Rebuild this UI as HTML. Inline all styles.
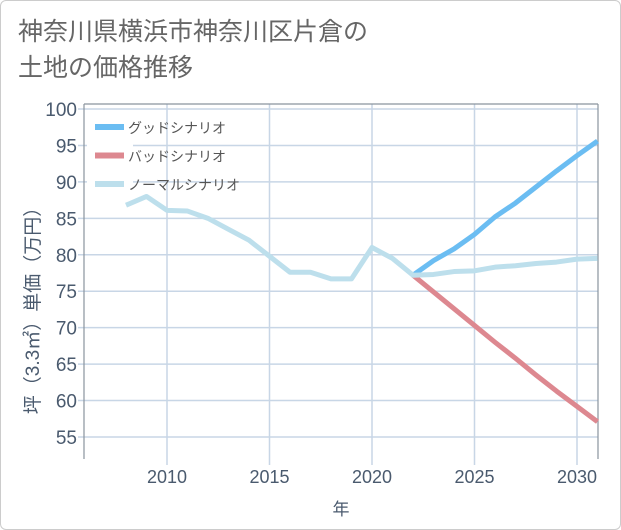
<!DOCTYPE html>
<html><head><meta charset="utf-8"><style>
body{margin:0;background:#fff;font-family:"Liberation Sans","Noto Sans CJK JP",sans-serif}
#wrap{position:relative;width:619px;height:528px;border:1px solid #ccc;border-radius:6px;overflow:hidden;background:#fff}
#title{position:absolute;left:17px;top:13px;font-size:25px;line-height:36px;color:#666;white-space:nowrap}
</style></head><body>
<div id="wrap">
<div id="title">神奈川県横浜市神奈川区片倉の<br>土地の価格推移</div>
<svg id="chart" width="621" height="530" style="position:absolute;left:0;top:0"></svg>
</div>
<script>
const normYears=[2008,2009,2010,2011,2012,2013,2014,2015,2016,2017,2018,2019,2020,2021,2022,2023,2024,2025,2026,2027,2028,2029,2030,2031];
const normVals=[86.8,88,86.1,86,85,83.5,82,79.8,77.6,77.6,76.7,76.7,81,79.5,77.2,77.3,77.7,77.8,78.3,78.5,78.8,79.0,79.4,79.5];
const goodYears=[2022,2023,2024,2025,2026,2027,2028,2029,2030,2031];
const goodVals=[77.2,79.2,80.8,82.8,85.2,87.1,89.3,91.5,93.6,95.6];
const badYears=[2022,2023,2024,2025,2026,2027,2028,2029,2030,2031];
const badVals=[77.2,74.9,72.6,70.3,68.0,65.8,63.5,61.3,59.2,57.1];
const yTicks=[55,60,65,70,75,80,85,90,95,100];
const xTicks=[2010,2015,2020,2025,2030];
const NS="http://www.w3.org/2000/svg";
const L=83,R=597,T=103,B=458;
const x=v=>166+(v-2010)*20.5;
const y=v=>108+(100-v)*7.289;
const svg=document.getElementById('chart');
function mk(t,a){const e=document.createElementNS(NS,t);for(const k in a)e.setAttribute(k,a[k]);svg.appendChild(e);return e;}
yTicks.forEach(v=>{
 const g=mk('line',{x1:L-6,x2:R,y1:y(v),y2:y(v),stroke:'#c8d6e6','stroke-width':1.5});
 
 
 const t=mk('text',{x:L-7,y:y(v)+7,'text-anchor':'end','font-size':19,fill:'#4a5a6e'});
 t.textContent=v;
 
 
});
xTicks.forEach(v=>{
 const g=mk('line',{x1:x(v),x2:x(v),y1:T,y2:B+6,stroke:'#c8d6e6','stroke-width':1.5});
 
 
 const t=mk('text',{x:x(v),y:B+24,'text-anchor':'middle','font-size':18,fill:'#4a5a6e'});
 t.textContent=v;
 
 
});
const ax=mk('path',{d:`M${L},${T}V${B}M${R},${T}V${B}M${L},${T}H${R}`,stroke:'#8a949e','stroke-width':1.2,fill:'none'});


const lg=mk('rect',{x:86,y:113,width:46,height:78,fill:'#fff'});


function line(xs,vs,col,name){
 const p=mk('polyline',{points:xs.map((v,i)=>x(v)+','+y(vs[i])).join(' '),fill:'none',stroke:col,'stroke-width':5,'stroke-linejoin':'round'});
 
 
}
line(badYears,badVals,'#dd8890','bad-scenario-line');
line(goodYears,goodVals,'#6bbdf2','good-scenario-line');
line(normYears,normVals,'#bddfec','normal-scenario-line');
[['グッドシナリオ','#6bbdf2'],['バッドシナリオ','#dd8890'],['ノーマルシナリオ','#bddfec']].forEach((d,i)=>{
 const yy=126+i*28.5;
 const s=mk('line',{x1:94,x2:123,y1:yy,y2:yy,stroke:d[1],'stroke-width':6});
 
 
 const t=mk('text',{x:127,y:yy+6,'font-size':14,fill:'#555'});
 t.textContent=d[0];
 
 
});
const yt=mk('text',{x:0,y:0,'font-size':19,fill:'#4a5a6e','text-anchor':'middle',transform:'translate(38,305) rotate(-90)'});
yt.textContent='坪（3.3㎡）単価（万円）';


const xt=mk('text',{x:340,y:514,'font-size':17,fill:'#4a5a6e','text-anchor':'middle'});
xt.textContent='年';


</script>
</body></html>
